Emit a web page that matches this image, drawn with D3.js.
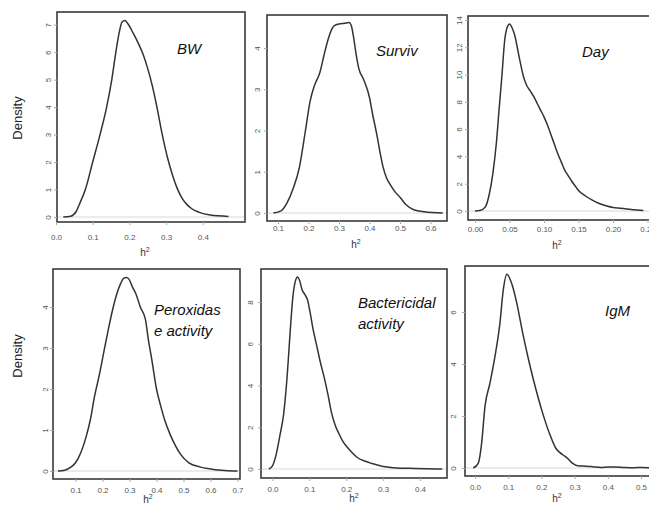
<!DOCTYPE html>
<html>
<head>
<meta charset="utf-8">
<script src="https://cdn.jsdelivr.net/npm/d3@7"></script>
<style>
  body { margin: 0; background: #fff; }
  svg { display: block; font-family: "Liberation Sans", Arial, sans-serif; }
</style>
</head>
<body>
<script>
// posterior densities of h2
const bwX = [0.02, 0.04, 0.055, 0.065, 0.08, 0.10, 0.12, 0.138, 0.152, 0.162, 0.172, 0.18, 0.188, 0.195, 0.21, 0.225, 0.238, 0.25, 0.262, 0.275, 0.288, 0.305, 0.318, 0.33, 0.345, 0.357, 0.37, 0.39, 0.42, 0.47];
const bwY = [0, 0.03, 0.2, 0.5, 1.0, 2.0, 3.0, 4.0, 5.0, 5.9, 6.7, 7.1, 7.15, 7.05, 6.7, 6.3, 5.9, 5.4, 4.8, 4.0, 3.1, 2.1, 1.5, 1.05, 0.65, 0.45, 0.3, 0.17, 0.07, 0.02];

const survX = [0.085, 0.11, 0.13, 0.15, 0.17, 0.19, 0.205, 0.22, 0.237, 0.25, 0.264, 0.276, 0.286, 0.30, 0.318, 0.333, 0.34, 0.347, 0.355, 0.365, 0.38, 0.40, 0.41, 0.424, 0.435, 0.445, 0.456, 0.467, 0.485, 0.50, 0.52, 0.545, 0.58, 0.64];
const survY = [0, 0.05, 0.25, 0.6, 1.1, 2.0, 2.7, 3.1, 3.4, 3.8, 4.2, 4.45, 4.55, 4.58, 4.6, 4.62, 4.55, 4.3, 3.9, 3.5, 3.25, 2.8, 2.4, 1.9, 1.45, 1.1, 0.85, 0.7, 0.5, 0.38, 0.2, 0.08, 0.03, 0.0];

const dayX = [0.0, 0.008, 0.015, 0.021, 0.026, 0.031, 0.035, 0.039, 0.043, 0.047, 0.05, 0.054, 0.058, 0.062, 0.066, 0.07, 0.075, 0.08, 0.085, 0.09, 0.095, 0.10, 0.105, 0.11, 0.115, 0.12, 0.125, 0.13, 0.135, 0.14, 0.145, 0.15, 0.16, 0.17, 0.18, 0.19, 0.20, 0.21, 0.22, 0.23, 0.244];
const dayY = [0, 0.05, 0.3, 1.3, 2.8, 5.0, 7.5, 9.9, 12.5, 13.5, 13.7, 13.4, 12.8, 11.8, 10.8, 9.9, 9.2, 8.8, 8.4, 7.9, 7.4, 6.9, 6.3, 5.6, 4.9, 4.2, 3.6, 3.0, 2.6, 2.2, 1.85, 1.5, 1.1, 0.8, 0.55, 0.38, 0.25, 0.2, 0.15, 0.1, 0.03];

const perX = [0.035, 0.06, 0.084, 0.10, 0.12, 0.14, 0.155, 0.17, 0.19, 0.206, 0.22, 0.237, 0.252, 0.267, 0.278, 0.288, 0.298, 0.31, 0.325, 0.34, 0.359, 0.37, 0.383, 0.40, 0.415, 0.43, 0.45, 0.47, 0.49, 0.52, 0.56, 0.6, 0.64, 0.7];
const perY = [0, 0.02, 0.1, 0.2, 0.45, 0.85, 1.25, 1.8, 2.4, 2.94, 3.4, 3.92, 4.3, 4.57, 4.7, 4.72, 4.68, 4.5, 4.3, 4.0, 3.7, 3.2, 2.7, 2.0, 1.6, 1.25, 0.9, 0.62, 0.4, 0.2, 0.1, 0.05, 0.02, 0.0];

const bacX = [-0.01, 0.0, 0.01, 0.02, 0.03, 0.04, 0.048, 0.055, 0.062, 0.068, 0.074, 0.08, 0.088, 0.095, 0.102, 0.11, 0.12, 0.13, 0.14, 0.15, 0.16, 0.17, 0.18, 0.19, 0.2, 0.215, 0.23, 0.25, 0.27, 0.3, 0.33, 0.37, 0.42, 0.46];
const bacY = [0, 0.15, 0.7, 1.6, 2.6, 4.5, 6.6, 8.2, 9.0, 9.2, 9.0, 8.6, 8.35, 8.1, 7.5, 6.7, 5.9, 5.1, 4.4, 3.6, 2.7, 2.1, 1.7, 1.35, 1.1, 0.8, 0.55, 0.38, 0.26, 0.12, 0.06, 0.03, 0.01, 0];

const igmX = [-0.005, 0.01, 0.02, 0.03, 0.045, 0.06, 0.075, 0.085, 0.096, 0.109, 0.124, 0.144, 0.164, 0.184, 0.204, 0.224, 0.244, 0.255, 0.265, 0.278, 0.293, 0.313, 0.335, 0.355, 0.38, 0.4, 0.42, 0.45, 0.48, 0.5, 0.53];
const igmY = [0, 0.19, 0.96, 2.36, 3.26, 4.28, 5.56, 6.83, 7.45, 7.15, 6.45, 5.17, 4.02, 3.0, 2.1, 1.34, 0.75, 0.6, 0.5, 0.38, 0.19, 0.08, 0.07, 0.05, 0.02, 0.04, 0.04, 0.02, 0.01, 0.02, 0.0];

// tick values and labels
const bwXTicks = [0, 0.1, 0.2, 0.3, 0.4];
const bwYTicks = [0, 1, 2, 3, 4, 5, 6, 7];
const survXTicks = [0.1, 0.2, 0.3, 0.4, 0.5, 0.6];
const survYTicks = [0, 1, 2, 3, 4];
const dayXTicks = [0, 0.05, 0.1, 0.15, 0.2, 0.25];
const dayYTicks = [0, 2, 4, 6, 8, 10, 12, 14];
const perXTicks = [0.1, 0.2, 0.3, 0.4, 0.5, 0.6, 0.7];
const perYTicks = [0, 1, 2, 3, 4];
const bacXTicks = [0, 0.1, 0.2, 0.3, 0.4];
const bacYTicks = [0, 2, 4, 6, 8];
const igmXTicks = [0, 0.1, 0.2, 0.3, 0.4, 0.5];
const igmYTicks = [0, 2, 4, 6];

const traitNames = [["BW"], ["Surviv"], ["Day"], ["Peroxidas", "e activity"], ["Bactericidal", "activity"], ["IgM"]];

const svg = d3.select("body").append("svg")
  .attr("width", 649)
  .attr("height", 506);

// layout of each panel: frame box, two anchor ticks for the scales, label spots
const panels = [
  { x: bwX, y: bwY, xt: bwXTicks, yt: bwYTicks, fmt: ".1f", name: traitNames[0],
    box: [57, 12, 245, 222], xa: [0, 56, 0.4, 202.8], ya: [0, 217, 7, 24.7],
    xLab: 238, yLab: 48, h2: [145, 256], nm: [177, 54] },
  { x: survX, y: survY, xt: survXTicks, yt: survYTicks, fmt: ".1f", name: traitNames[1],
    box: [267, 15, 447, 221], xa: [0.1, 278, 0.5, 400], ya: [0, 213, 4, 48],
    xLab: 229, yLab: 257, h2: [356, 248], nm: [376, 56] },
  { x: dayX, y: dayY, xt: dayXTicks, yt: dayYTicks, fmt: ".2f", name: traitNames[2],
    box: [468, 16, 680, 220], xa: [0, 475, 0.2, 613], ya: [0, 211, 14, 20],
    xLab: 230, yLab: 459, h2: [557, 249], nm: [582, 57] },
  { x: perX, y: perY, xt: perXTicks, yt: perYTicks, fmt: ".1f", name: traitNames[3],
    box: [53, 269, 240, 479], xa: [0.1, 75.5, 0.7, 237.5], ya: [0, 471, 4, 307],
    xLab: 491, yLab: 45, h2: [148, 503], nm: [154, 315] },
  { x: bacX, y: bacY, xt: bacXTicks, yt: bacYTicks, fmt: ".1f", name: traitNames[4],
    box: [261, 269, 447, 478], xa: [0, 272.5, 0.4, 420], ya: [0, 469, 8, 302],
    xLab: 490, yLab: 250, h2: [354, 502], nm: [358, 308] },
  { x: igmX, y: igmY, xt: igmXTicks, yt: igmYTicks, fmt: ".1f", name: traitNames[5],
    box: [465, 266, 680, 476], xa: [0, 475, 0.5, 641], ya: [0, 468, 6, 312],
    xLab: 488, yLab: 453, h2: [557, 502], nm: [605, 316] }
];

panels.forEach(function (p) {
  const [x0, y0, x1, y1] = p.box;
  const xs = d3.scaleLinear().domain([p.xa[0], p.xa[2]]).range([p.xa[1], p.xa[3]]);
  const ys = d3.scaleLinear().domain([p.ya[0], p.ya[2]]).range([p.ya[1], p.ya[3]]);
  const g = svg.append("g");

  // zero line
  g.append("line")
    .attr("x1", x0).attr("x2", x1)
    .attr("y1", ys(0)).attr("y2", ys(0))
    .attr("stroke", "#d8d8d8")
    .attr("stroke-width", 1);

  // density curve
  const pts = p.x.map((v, i) => [v, p.y[i]]);
  g.append("path")
    .datum(pts)
    .attr("fill", "none")
    .attr("stroke", "#333")
    .attr("stroke-width", 1.5)
    .attr("d", d3.line().x(d => xs(d[0])).y(d => ys(d[1])).curve(d3.curveMonotoneX));

  // frame
  g.append("rect")
    .attr("x", x0).attr("y", y0)
    .attr("width", x1 - x0).attr("height", y1 - y0)
    .attr("fill", "none")
    .attr("stroke", "#3a3a3a")
    .attr("stroke-width", 1.6);

  // x axis
  const xAx = g.append("g")
    .attr("transform", `translate(0,${y1})`)
    .call(d3.axisBottom(xs).tickValues(p.xt).tickFormat(d3.format(p.fmt)).tickSize(3).tickPadding(p.xLab - y1 - 7));
  xAx.select(".domain").remove();
  xAx.selectAll("line").attr("stroke", "#aaa");
  xAx.selectAll("text").attr("fill", "#555").attr("font-size", 8).attr("font-family", "Liberation Sans, Arial, sans-serif");

  // y axis, labels turned
  const yAx = g.append("g")
    .attr("transform", `translate(${x0},0)`)
    .call(d3.axisLeft(ys).tickValues(p.yt).tickFormat(d3.format("d")).tickSize(3));
  yAx.select(".domain").remove();
  yAx.selectAll("line").attr("stroke", "#aaa");
  yAx.selectAll("text")
    .attr("x", null)
    .attr("dy", "0.35em")
    .attr("text-anchor", "middle")
    .attr("transform", `translate(${p.yLab - x0},0) rotate(-90)`)
    .attr("fill", "#555")
    .attr("font-size", 8)
    .attr("font-family", "Liberation Sans, Arial, sans-serif");

  // h2 label
  const h = g.append("text")
    .attr("x", p.h2[0]).attr("y", p.h2[1])
    .attr("text-anchor", "middle")
    .attr("font-size", 10)
    .attr("fill", "#333");
  h.append("tspan").text("h");
  h.append("tspan").attr("font-size", 7).attr("dy", -4).text("2");

  // trait name
  p.name.forEach(function (s, i) {
    g.append("text")
      .attr("x", p.nm[0]).attr("y", p.nm[1] + i * 21)
      .attr("font-size", 15)
      .attr("font-style", "italic")
      .attr("fill", "#111")
      .text(s);
  });
});

// Density titles
[118, 356].forEach(function (cy) {
  svg.append("text")
    .attr("transform", `translate(17,${cy}) rotate(-90)`)
    .attr("text-anchor", "middle")
    .attr("dy", "0.35em")
    .attr("font-size", 13)
    .attr("fill", "#222")
    .text("Density");
});
</script>
</body>
</html>
